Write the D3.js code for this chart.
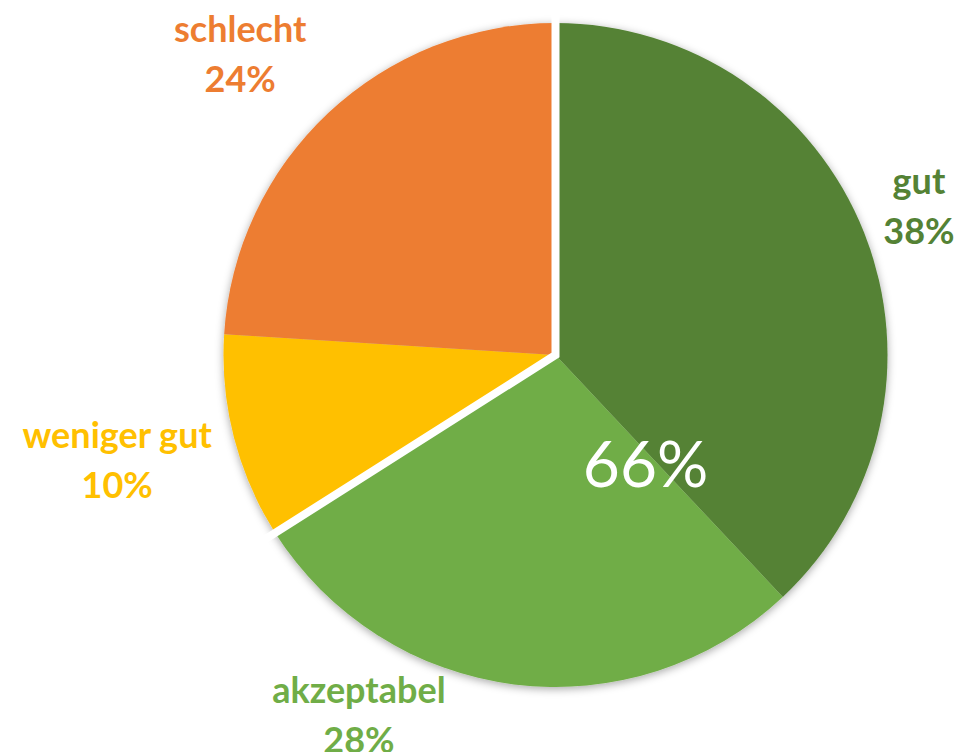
<!DOCTYPE html>
<meta charset="utf-8">
<body style="margin:0;background:#fff;">
<svg width="960" height="752"></svg>
<script src="https://cdn.jsdelivr.net/npm/d3@7"></script>
<script>
    // chart data
    let categories = ["gut", "akzeptabel", "weniger gut", "schlecht"];
    let shares = [38, 28, 10, 24];
    let colors = ["#548235", "#70AD47", "#FFC000", "#ED7D31"];
    // first two slices form the "good" group, summed in the big label
    let groupSize = 2;

    let svg = d3.select("svg"),
        cx = 555.5, cy = 355, radius = 332;

    let pie = d3.pie().sort(null).value(d => d.v);
    let arcs = pie(categories.map((c, i) => ({ c: c, v: shares[i], col: colors[i] })));
    let arc = d3.arc().innerRadius(0).outerRadius(radius);

    let defs = svg.append("defs");
    let f = defs.append("filter").attr("id", "sh")
        .attr("x", "-10%").attr("y", "-10%").attr("width", "120%").attr("height", "120%");
    f.append("feDropShadow").attr("dx", 0).attr("dy", 2)
        .attr("stdDeviation", 4).attr("flood-color", "#000").attr("flood-opacity", 0.35);

    let g = svg.append("g").attr("transform", `translate(${cx},${cy})`);

    g.append("g").attr("filter", "url(#sh)")
        .selectAll("path").data(arcs).enter().append("path")
        .attr("d", arc)
        .attr("fill", d => d.data.col);

    // white gap between the green group and the rest
    let a0 = arcs[0].startAngle, a1 = arcs[groupSize - 1].endAngle;
    let p0 = d3.pointRadial(a0, radius + 14), p1 = d3.pointRadial(a1, radius + 14);
    g.append("path")
        .attr("d", `M${p0[0]},${p0[1]}L0,0L${p1[0]},${p1[1]}`)
        .attr("fill", "none")
        .attr("stroke", "#fff")
        .attr("stroke-width", 8)
        .attr("stroke-linejoin", "miter");

    // label layout: angle (deg, clockwise from top) and distance from centre
    let labelAt = [[69.5, 388], [207.8, 421.6], [254.9, 454], [312.4, 427]];
    let fmt = d3.format(".0%");
    let total = d3.sum(shares);

    let lab = g.selectAll(".lab").data(arcs).enter().append("text")
        .attr("class", "lab")
        .attr("text-anchor", "middle")
        .style("font", "bold 36px Lato, 'Open Sans', sans-serif")
        .attr("fill", d => d.data.col)
        .attr("transform", (d, i) => {
            let p = d3.pointRadial(labelAt[i][0] * Math.PI / 180, labelAt[i][1]);
            return `translate(${p[0]},${p[1]})`;
        });
    lab.append("tspan").attr("x", 0).attr("y", -25).text(d => d.data.c);
    lab.append("tspan").attr("x", 0).attr("y", 25).text(d => fmt(d.data.v / total));

    // big group sum label
    let groupSum = d3.sum(shares.slice(0, groupSize));
    let gp = d3.pointRadial(140.6 * Math.PI / 180, 142);
    g.append("text")
        .attr("x", gp[0]).attr("y", gp[1] + 22)
        .attr("text-anchor", "middle")
        .attr("fill", "#fff")
        .style("font", "64px Lato, 'Open Sans', sans-serif")
        .text(fmt(groupSum / total));
</script>
</body>
